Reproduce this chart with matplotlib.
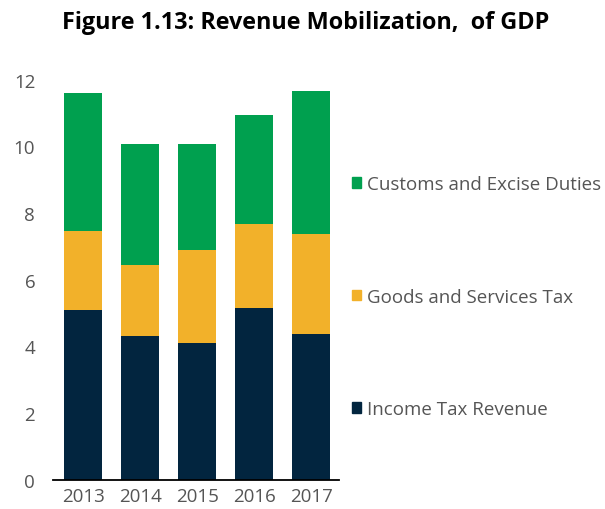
import matplotlib
matplotlib.use("Agg")
import matplotlib.pyplot as plt
from matplotlib.patches import Patch
import numpy as np

years = ["2013", "2014", "2015", "2016", "2017"]
income_tax = [5.09, 4.30, 4.09, 5.16, 4.37]
goods_services = [2.36, 2.14, 2.79, 2.51, 3.01]
customs_excise = [4.14, 3.64, 3.20, 3.28, 4.28]
series_labels = ["Income Tax Revenue", "Goods and Services Tax", "Customs and Excise Duties"]
colors = ["#02253F", "#F2B12A", "#00A04F"]
yticks = [0, 2, 4, 6, 8, 10, 12]

plt.rcParams['font.family'] = ['Open Sans', 'DejaVu Sans']

fig = plt.figure(figsize=(6.05, 5.10), dpi=100)
ax = fig.add_axes([0.088, 0.0575, 0.472, 0.7845])

x = np.arange(len(years))
w = 0.667
b1 = ax.bar(x, income_tax, width=w, color=colors[0], label=series_labels[0])
bottom2 = np.array(income_tax)
b2 = ax.bar(x, goods_services, width=w, bottom=bottom2, color=colors[1], label=series_labels[1])
bottom3 = bottom2 + np.array(goods_services)
b3 = ax.bar(x, customs_excise, width=w, bottom=bottom3, color=colors[2], label=series_labels[2])

ax.set_xlim(-0.525, 4.48)
ax.set_ylim(0, 12)
ax.set_yticks(yticks)
ax.set_xticks(x)
ax.set_xticklabels(years)
for s in ["top", "right", "left"]:
    ax.spines[s].set_visible(False)
ax.spines["bottom"].set_linewidth(1.3)
ax.spines["bottom"].set_color("black")
ax.tick_params(axis="both", length=0, labelsize=13.5, colors="#555555")
ax.tick_params(axis="y", pad=13)
ax.tick_params(axis="x", pad=5)

handles = [Patch(color=colors[2]), Patch(color=colors[1]), Patch(color=colors[0])]
labels = [series_labels[2], series_labels[1], series_labels[0]]
leg = fig.legend(handles, labels, loc="upper left", bbox_to_anchor=(0.582, 0.654),
                 frameon=False, fontsize=13.5, labelspacing=5.03,
                 handlelength=0.5, handleheight=0.5, handletextpad=0.3,
                 borderpad=0, borderaxespad=0)
for t in leg.get_texts():
    t.set_color("#555555")

fig.text(0.505, 0.943, "Figure 1.13: Revenue Mobilization,  of GDP", ha="center", va="baseline",
         fontsize=16.8, fontweight="bold", color="black")

fig.savefig("out.png", dpi=100)
